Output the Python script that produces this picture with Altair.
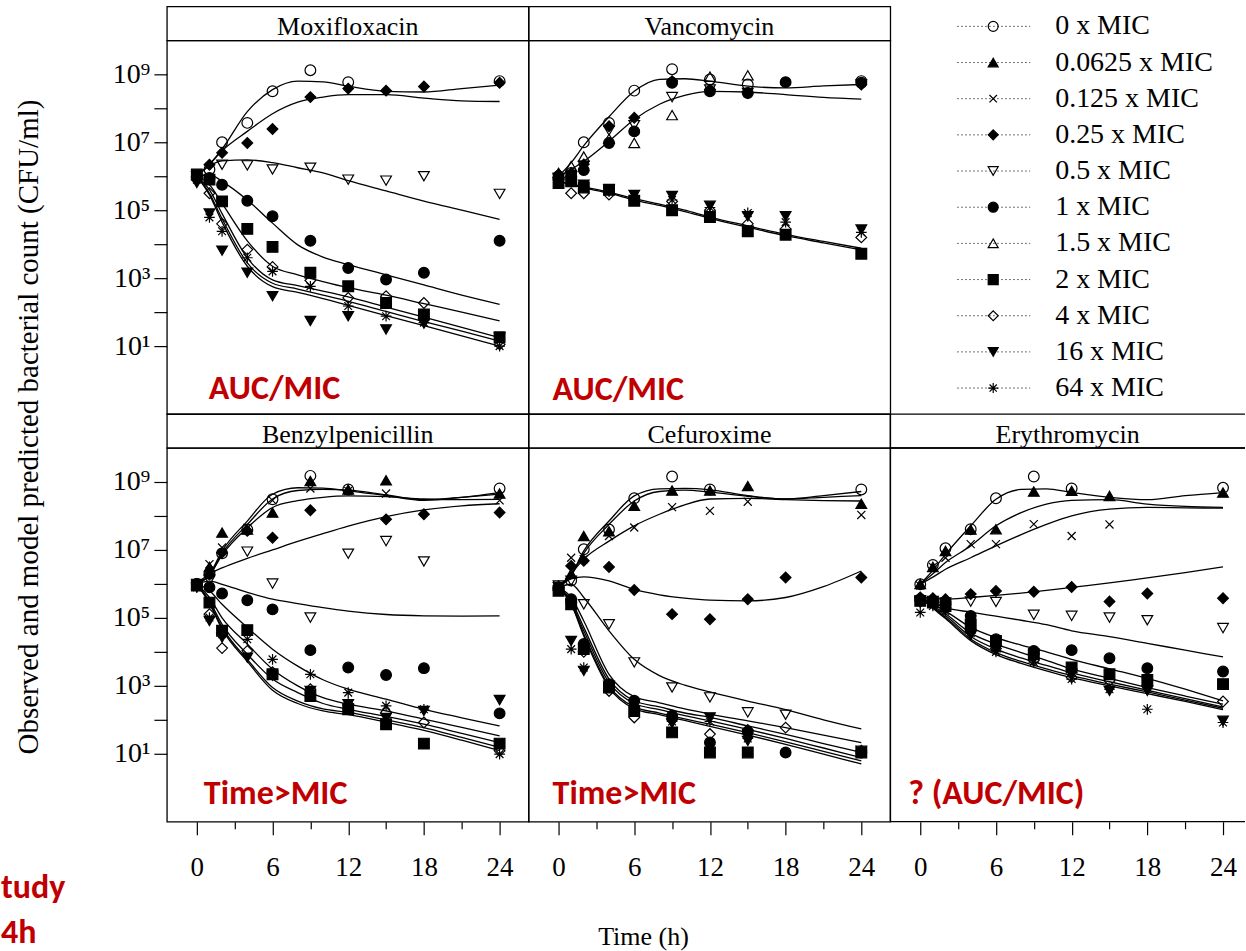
import altair as alt
import pandas as pd

SERIF = "Liberation Serif"
SANS = "Carlito, Lato, sans-serif"
RED = "#C00000"

# ---------------- data (log10 CFU/ml) ----------------
T_OBS = [0, 1, 2, 4, 6, 9, 12, 15, 18, 24]
T_MOD = [0, 1, 2, 4, 6, 8, 10, 12, 15, 18, 21, 24]

CONC = ["0 x MIC", "0.0625 x MIC", "0.125 x MIC", "0.25 x MIC", "0.5 x MIC", "1 x MIC",
        "1.5 x MIC", "2 x MIC", "4 x MIC", "16 x MIC", "64 x MIC"]

moxi_obs = {
    "0 x MIC":    [6.0, 6.2, 7.0, 7.57, 8.5, 9.12, 8.77, None, None, 8.8],
    "0.25 x MIC": [5.9, 6.34, 6.69, 6.98, 7.39, 8.33, 8.58, 8.52, 8.64, 8.75],
    "0.5 x MIC":  [6.0, None, 6.34, 6.32, 6.2, 6.25, 5.9, 5.87, 6.0, 5.48],
    "1 x MIC":    [6.0, 5.95, 5.75, 5.28, 4.82, 4.1, 3.3, 2.96, 3.16, 4.1],
    "2 x MIC":    [6.05, 5.9, 5.26, 4.45, 3.92, 3.16, 2.76, 2.27, 1.93, 1.26],
    "4 x MIC":    [6.0, 5.5, 4.6, 3.84, 3.33, 2.93, 2.42, 2.47, 2.27, 1.05],
    "16 x MIC":   [5.8, 4.9, 3.81, 3.16, 2.47, 1.74, 1.88, 1.49, 1.66, 1.25],
    "64 x MIC":   [5.9, 4.79, 4.38, 3.6, 3.2, 2.76, 2.18, 1.88, 1.69, 1.0],
}
moxi_mod = {
    "0 x MIC":    [6.0, 6.35, 6.8, 7.9, 8.55, 8.8, 8.78, 8.65, 8.5, 8.48, 8.58, 8.68],
    "0.25 x MIC": [6.0, 6.35, 6.75, 7.32, 7.84, 8.18, 8.33, 8.4, 8.4, 8.3, 8.22, 8.2],
    "0.5 x MIC":  [6.0, 6.3, 6.45, 6.48, 6.4, 6.25, 6.1, 5.87, 5.57, 5.27, 5.0, 4.73],
    "1 x MIC":    [6.0, 6.05, 5.85, 5.3, 4.62, 3.98, 3.62, 3.4, 3.1, 2.8, 2.5, 2.23],
    "2 x MIC":    [6.0, 5.75, 5.2, 4.1, 3.35, 3.1, 2.9, 2.72, 2.5, 2.25, 2.0, 1.74],
    "4 x MIC":    [6.0, 5.6, 4.9, 3.6, 2.95, 2.78, 2.62, 2.45, 2.15, 1.85, 1.55, 1.25],
    "16 x MIC":   [6.0, 5.5, 4.75, 3.45, 2.85, 2.68, 2.5, 2.32, 2.02, 1.72, 1.44, 1.15],
    "64 x MIC":   [6.0, 5.45, 4.65, 3.35, 2.75, 2.58, 2.4, 2.2, 1.9, 1.6, 1.3, 1.0],
}

vanco_obs = {
    "0 x MIC":    [6.0, 6.1, 7.0, 7.57, 8.52, 9.15, 8.85, 8.7, None, 8.8],
    "0.25 x MIC": [6.05, 6.1, 6.35, 7.47, 7.72, 8.8, 8.55, 8.45, None, 8.7],
    "0.5 x MIC":  [5.95, 6.0, 6.3, 7.35, 7.5, 8.33, 8.55, 8.45, None, 8.7],
    "1 x MIC":    [5.95, 6.0, 6.18, 6.98, 7.32, 8.75, 8.5, 8.45, 8.77, 8.75],
    "1.5 x MIC":  [6.1, 6.3, 6.58, 7.1, 6.98, 7.8, 8.93, 8.97, None, None],
    "2 x MIC":    [5.8, 5.85, 5.67, 5.6, 5.28, 5.0, 4.8, 4.38, 4.28, 3.72],
    "4 x MIC":    [5.9, 5.5, 5.5, 5.46, 5.3, 5.26, 5.0, 4.6, 4.45, 4.2],
    "16 x MIC":   [5.95, 6.0, 5.75, 5.6, 5.45, 5.42, 5.13, 4.82, 4.82, 4.43],
    "64 x MIC":   [5.9, 5.9, 5.7, 5.55, 5.4, 5.3, 5.08, 4.92, 4.65, 4.35],
}
vanco_mod = {
    "0 x MIC":  [6.0, 6.4, 6.9, 7.75, 8.5, 8.85, 8.87, 8.8, 8.65, 8.6, 8.66, 8.7],
    "1 x MIC":  [6.0, 6.2, 6.44, 7.03, 7.67, 8.12, 8.38, 8.5, 8.48, 8.4, 8.32, 8.27],
    "2 x MIC":  [5.85, 5.75, 5.66, 5.5, 5.3, 5.14, 4.96, 4.76, 4.5, 4.25, 4.04, 3.83],
    "16 x MIC": [5.85, 5.77, 5.69, 5.53, 5.34, 5.18, 5.0, 4.8, 4.54, 4.29, 4.08, 3.88],
}

benzyl_obs = {
    "0 x MIC":      [6.0, 6.3, 6.9, 7.6, 8.49, 9.18, 8.78, None, None, 8.81],
    "0.0625 x MIC": [6.0, 6.5, 7.51, 7.6, 8.1, 9.03, 8.78, 9.05, None, 8.66],
    "0.125 x MIC":  [6.0, 6.58, 7.07, 7.65, 8.46, 8.81, 8.74, 8.66, None, 8.46],
    "0.25 x MIC":   [6.0, 6.28, 6.92, 7.56, 7.36, 8.17, None, 7.9, 8.05, 8.1],
    "0.5 x MIC":    [6.0, 6.1, None, 6.95, 6.01, 5.01, 6.89, 7.26, 6.66, None],
    "1 x MIC":      [6.0, 5.9, 5.72, 5.52, 5.25, 4.05, 3.54, 3.32, 3.52, 2.19],
    "2 x MIC":      [5.95, 5.45, 4.62, 4.64, 3.34, 2.7, 2.31, 1.87, 1.3, 1.3],
    "4 x MIC":      [5.95, 5.11, 4.11, 4.03, 3.4, 2.9, 2.46, 2.22, 1.92, 1.09],
    "16 x MIC":     [5.9, 4.91, 4.42, 3.83, 3.3, 2.85, 2.46, 2.05, 2.26, 2.58],
    "64 x MIC":     [5.9, 5.01, 4.52, 4.37, 3.78, 3.34, 2.8, 2.41, 2.31, 0.99],
}
benzyl_mod = {
    "0 x MIC":      [6.0, 6.28, 6.97, 7.85, 8.64, 8.83, 8.82, 8.74, 8.6, 8.46, 8.55, 8.69],
    "0.0625 x MIC": [6.0, 6.25, 6.9, 7.75, 8.5, 8.75, 8.78, 8.76, 8.62, 8.48, 8.55, 8.64],
    "0.125 x MIC":  [6.0, 6.25, 6.85, 7.65, 8.25, 8.45, 8.55, 8.59, 8.57, 8.5, 8.48, 8.49],
    "0.25 x MIC":   [6.0, 6.3, 6.47, 6.75, 7.0, 7.25, 7.48, 7.7, 7.98, 8.18, 8.3, 8.36],
    "0.5 x MIC":    [6.0, 6.08, 5.99, 5.75, 5.55, 5.42, 5.3, 5.2, 5.1, 5.06, 5.05, 5.06],
    "1 x MIC":      [6.0, 5.8, 5.4, 4.72, 4.08, 3.58, 3.18, 2.9, 2.61, 2.31, 2.06, 1.82],
    "2 x MIC":      [6.0, 5.6, 5.0, 4.23, 3.49, 3.0, 2.65, 2.46, 2.26, 2.02, 1.78, 1.53],
    "4 x MIC":      [6.0, 5.5, 4.81, 3.93, 3.2, 2.8, 2.48, 2.31, 2.1, 1.87, 1.6, 1.33],
    "16 x MIC":     [6.0, 5.45, 4.72, 3.78, 2.95, 2.55, 2.32, 2.22, 2.0, 1.77, 1.48, 1.19],
    "64 x MIC":     [6.0, 5.42, 4.67, 3.72, 2.87, 2.48, 2.26, 2.15, 1.93, 1.69, 1.4, 1.09],
}

cefur_obs = {
    "0 x MIC":      [5.9, 6.1, 7.02, 7.6, 8.52, 9.16, 8.78, None, None, 8.78],
    "0.0625 x MIC": [5.95, 6.3, 7.41, 7.55, 8.3, 8.75, 8.75, 8.88, None, 8.36],
    "0.125 x MIC":  [5.95, 6.77, 6.73, 7.41, 7.66, 8.26, 8.15, 8.42, None, 8.03],
    "0.25 x MIC":   [5.9, 6.53, 6.68, 6.5, 5.82, 5.11, 4.96, 5.55, 6.19, 6.19],
    "0.5 x MIC":    [5.95, 6.09, 5.4, 4.81, 3.69, 2.95, 2.66, 2.22, 2.15, 1.09],
    "1 x MIC":      [5.85, 5.55, 4.23, 3.05, 2.56, 2.12, 1.33, 1.65, 1.04, 1.04],
    "2 x MIC":      [5.8, 5.4, 4.08, 2.95, 2.26, 1.63, 1.04, 1.04, None, 1.04],
    "4 x MIC":      [5.85, 5.45, 4.0, 2.85, 2.07, 2.0, 1.58, 1.7, 1.77, 1.09],
    "16 x MIC":     [5.9, 4.32, 3.44, 3.0, 2.45, 1.9, 2.07, 1.38, None, None],
    "64 x MIC":     [5.9, 4.08, 3.54, 2.95, 2.35, 1.95, 1.95, 1.45, None, None],
}
cefur_mod = {
    "0 x MIC":      [5.9, 6.28, 6.97, 7.85, 8.59, 8.8, 8.81, 8.77, 8.6, 8.5, 8.6, 8.72],
    "0.0625 x MIC": [5.9, 6.25, 6.9, 7.75, 8.44, 8.72, 8.76, 8.7, 8.58, 8.5, 8.55, 8.6],
    "0.125 x MIC":  [5.9, 6.3, 6.73, 7.26, 7.71, 8.05, 8.33, 8.5, 8.52, 8.48, 8.45, 8.44],
    "0.25 x MIC":   [5.9, 6.15, 6.21, 6.09, 5.84, 5.68, 5.58, 5.52, 5.5, 5.6, 5.92, 6.38],
    "0.5 x MIC":    [5.9, 5.99, 5.6, 4.62, 3.78, 3.3, 3.02, 2.82, 2.55, 2.3, 2.0, 1.73],
    "1 x MIC":      [5.9, 5.6, 4.91, 3.34, 2.68, 2.5, 2.32, 2.17, 1.97, 1.77, 1.55, 1.33],
    "2 x MIC":      [5.9, 5.5, 4.72, 3.2, 2.56, 2.38, 2.2, 2.07, 1.82, 1.57, 1.3, 1.04],
    "4 x MIC":      [5.9, 5.45, 4.62, 3.1, 2.48, 2.3, 2.12, 1.97, 1.72, 1.45, 1.17, 0.89],
    "16 x MIC":     [5.9, 5.42, 4.52, 3.0, 2.38, 2.2, 2.03, 1.87, 1.62, 1.35, 1.07, 0.79],
    "64 x MIC":     [5.9, 5.4, 4.47, 2.95, 2.33, 2.15, 1.98, 1.81, 1.55, 1.28, 0.99, 0.7],
}

erythro_obs = {
    "0 x MIC":      [5.99, 6.56, 7.05, 7.61, 8.52, 9.16, 8.81, None, None, 8.83],
    "0.0625 x MIC": [6.0, 6.5, 6.97, 7.6, 7.61, 8.72, 8.74, 8.59, None, 8.69],
    "0.125 x MIC":  [5.95, 6.5, 6.77, 7.17, 7.17, 7.76, 7.41, 7.75, None, None],
    "0.25 x MIC":   [5.6, 5.58, 5.55, 5.7, 5.79, 5.77, 5.91, 5.48, 5.72, 5.58],
    "0.5 x MIC":    [5.5, 5.5, 5.45, 5.48, 5.47, 5.09, 5.06, 5.01, 4.93, 4.7],
    "1 x MIC":      [5.55, 5.5, 5.45, 5.06, 4.37, 4.03, 4.05, 3.81, 3.52, 3.42],
    "2 x MIC":      [5.5, 5.45, 5.35, 4.81, 4.32, 3.93, 3.54, 3.34, 3.17, 3.05],
    "4 x MIC":      [5.5, 5.45, 5.3, 4.6, 4.1, 3.75, 3.25, 3.15, 3.0, 2.54],
    "16 x MIC":     [5.45, 5.4, 5.25, 4.5, 4.05, 3.8, 3.35, 2.85, 2.85, 1.97],
    "64 x MIC":     [5.16, 5.35, 5.2, 4.55, 4.0, 3.7, 3.2, 2.9, 2.31, 1.92],
}
erythro_mod = {
    "0 x MIC":      [6.0, 6.4, 6.87, 7.71, 8.49, 8.78, 8.8, 8.69, 8.55, 8.48, 8.6, 8.69],
    "0.0625 x MIC": [6.0, 6.3, 6.63, 7.12, 7.71, 8.1, 8.35, 8.46, 8.48, 8.35, 8.28, 8.25],
    "0.125 x MIC":  [6.0, 6.2, 6.43, 6.77, 7.12, 7.45, 7.75, 8.0, 8.2, 8.25, 8.24, 8.23],
    "0.25 x MIC":   [5.6, 5.57, 5.55, 5.6, 5.66, 5.73, 5.81, 5.9, 6.03, 6.18, 6.33, 6.5],
    "0.5 x MIC":    [5.6, 5.45, 5.3, 5.17, 5.05, 4.93, 4.8, 4.62, 4.45, 4.25, 4.05, 3.85],
    "1 x MIC":      [5.6, 5.4, 5.2, 4.72, 4.42, 4.2, 4.0, 3.78, 3.5, 3.22, 2.9, 2.56],
    "2 x MIC":      [5.6, 5.35, 5.12, 4.55, 4.23, 3.98, 3.75, 3.5, 3.22, 2.95, 2.7, 2.46],
    "4 x MIC":      [5.6, 5.32, 5.07, 4.45, 4.08, 3.82, 3.6, 3.38, 3.12, 2.87, 2.62, 2.38],
    "16 x MIC":     [5.6, 5.3, 5.02, 4.38, 3.98, 3.72, 3.5, 3.3, 3.05, 2.82, 2.58, 2.34],
    "64 x MIC":     [5.6, 5.28, 4.98, 4.33, 3.92, 3.66, 3.44, 3.24, 3.0, 2.77, 2.54, 2.3],
}

# ---------------- styling ----------------
X_PATH = "M-0.75,-0.75L0.75,0.75M-0.75,0.75L0.75,-0.75"
AST_PATH = "M-1,0L1,0M0,-1L0,1M-0.72,-0.72L0.72,0.72M-0.72,0.72L0.72,-0.72"
SHAPES = ["circle", "triangle-up", X_PATH, "diamond", "triangle-down", "circle",
          "triangle-up", "square", "diamond", "triangle-down", AST_PATH]
FILLS = ["transparent", "black", "transparent", "black", "transparent", "black",
         "transparent", "black", "transparent", "black", "transparent"]
SHAPE_SCALE = alt.Scale(domain=CONC, range=SHAPES)
FILL_SCALE = alt.Scale(domain=CONC, range=FILLS)

PX_H = 12.625      # pixels per hour
W = 362
W_LAST = 355
H = 374
HS = 34
YS = alt.Scale(domain=[-1, 10], nice=False, zero=False)


def xscale(width):
    return alt.Scale(domain=[-30 / PX_H, (width - 30) / PX_H], nice=False, zero=False)


def long(d, times):
    rows = []
    for conc, vals in d.items():
        for t, v in zip(times, vals):
            if v is not None:
                rows.append({"conc": conc, "t": t, "v": v})
    return pd.DataFrame(rows)


Y_AXIS = alt.Axis(values=list(range(1, 10)), tickSize=13, tickColor="black", tickWidth=1.2,
                  labelPadding=4, labelFont=SERIF, labelFontSize=28, labelColor="black",
                  labelExpr="datum.value % 2 == 1 ? '10' + ['⁰','¹','²','³','⁴','⁵','⁶','⁷','⁸','⁹'][datum.value] : ''",
                  labelOverlap=False, domain=False, grid=False, title=None)
X_AXIS = alt.Axis(values=list(range(0, 25, 3)),
                  tickSize={"condition": {"test": "datum.value % 6 == 0", "value": 13}, "value": 7},
                  tickColor="black", tickWidth=1.2, labelPadding=20, labelFont=SERIF,
                  labelFontSize=27, labelColor="black",
                  labelExpr="datum.value % 6 == 0 ? datum.label : ''",
                  labelOverlap=False, labelFlush=False, domain=False, grid=False, title=None)

ONE = pd.DataFrame({"k": [0]})
NOSTROKE = alt.ViewBackground(stroke=None)


def txt(s, x, y, **kw):
    return alt.Chart(pd.DataFrame({"s": [s]})).mark_text(**kw).encode(
        x=alt.value(x), y=alt.value(y), text="s:N")


def frame_rules(width, height):
    base = alt.Chart(ONE).mark_rule(color="black", strokeWidth=1.3)
    return [
        base.encode(x=alt.value(0), y=alt.value(0), y2=alt.value(height)),
        base.encode(x=alt.value(0), x2=alt.value(width), y=alt.value(0)),
        base.encode(x=alt.value(0), x2=alt.value(width), y=alt.value(height)),
    ]


def note(s, x, y):
    return txt(s, x, y, align="left", baseline="alphabetic", font=SANS, fontWeight="bold",
               fontSize=34, color=RED)


def plot(obs, mod, width, yaxis, xaxis, ann, ann_x, ann_y, extra=(), frame=True):
    X = alt.X("t:Q", scale=xscale(width), axis=xaxis)
    Y = alt.Y("v:Q", scale=YS, axis=yaxis)
    lines = alt.Chart(long(mod, T_MOD)).mark_line(
        color="black", strokeWidth=1.3, interpolate="monotone"
    ).encode(x=X, y=Y, detail="conc:N")
    pts = alt.Chart(long(obs, T_OBS)).mark_point(
        stroke="black", strokeWidth=1.2, opacity=1, size=115
    ).encode(x=X, y=Y,
             shape=alt.Shape("conc:N", scale=SHAPE_SCALE, legend=None),
             fill=alt.Fill("conc:N", scale=FILL_SCALE, legend=None))
    layers = [lines, pts, note(ann, ann_x, ann_y)] + list(extra)
    if not frame:
        layers += frame_rules(width, H)
    ch = alt.layer(*layers).properties(width=width, height=H)
    if not frame:
        ch = ch.properties(view=NOSTROKE)
    return ch


def strip(name, width, frame=True):
    layers = [txt(name, width / 2, 29, align="center", baseline="alphabetic",
                  font=SERIF, fontSize=26, color="black")]
    if not frame:
        layers += frame_rules(width, HS)
    ch = alt.layer(*layers).properties(width=width, height=HS)
    if not frame:
        ch = ch.properties(view=NOSTROKE)
    return ch


# ---------------- panels ----------------
moxi = plot(moxi_obs, moxi_mod, W, Y_AXIS, None, "AUC/MIC", 42, 359)
vanco = plot(vanco_obs, vanco_mod, W, None, None, "AUC/MIC", 24, 360)

left_extra = [
    txt("Observed and model predicted bacterial count  (CFU/ml)", -129, -21, angle=270,
        align="center", baseline="alphabetic", font=SERIF, fontSize=29, color="black"),
    txt("tudy", -166, 450, align="left", baseline="alphabetic", font=SANS,
        fontWeight="bold", fontSize=34, color=RED),
    txt("4h", -166, 502, align="left", baseline="bottom", font=SANS,
        fontWeight="bold", fontSize=34, color=RED),
]
benzyl = plot(benzyl_obs, benzyl_mod, W, Y_AXIS, X_AXIS, "Time>MIC", 37, 356, extra=left_extra)
cefur = plot(cefur_obs, cefur_mod, W, None, X_AXIS, "Time>MIC", 24, 356,
             extra=[txt("Time (h)", 115, 489, align="center", baseline="middle",
                        font=SERIF, fontSize=26, color="black")])
erythro = plot(erythro_obs, erythro_mod, W_LAST, None, X_AXIS, "? (AUC/MIC)", 18, 356, frame=False)

# ---------------- legend cell (drawn from the top strip cell, overflowing downwards) ----------------
leg_df = pd.DataFrame({"conc": CONC, "i": list(range(len(CONC)))})
LY = alt.Y("i:Q", scale=alt.Scale(domain=[0, 10], range=[20, 382]), axis=None)
leg_line = alt.Chart(leg_df).mark_rule(color="#444", strokeWidth=1, strokeDash=[1.5, 2.5]).encode(
    x=alt.value(67), x2=alt.value(140), y=LY)
leg_pts = alt.Chart(leg_df).mark_point(stroke="black", strokeWidth=1.2, opacity=1, size=100).encode(
    x=alt.value(103), y=LY,
    shape=alt.Shape("conc:N", scale=SHAPE_SCALE, legend=None),
    fill=alt.Fill("conc:N", scale=FILL_SCALE, legend=None))
leg_txt = alt.Chart(leg_df).mark_text(align="left", baseline="middle", font=SERIF, fontSize=28,
                                      color="black").encode(x=alt.value(165), y=LY, text="conc:N")
legend = alt.layer(leg_line, leg_pts, leg_txt).properties(width=W_LAST, height=HS, view=NOSTROKE)

empty = alt.Chart(ONE).mark_text(text="").encode(x=alt.value(0), y=alt.value(0)).properties(
    width=W_LAST, height=H, view=NOSTROKE)

cells = [
    strip("Moxifloxacin", W), strip("Vancomycin", W), legend,
    moxi, vanco, empty,
    strip("Benzylpenicillin", W), strip("Cefuroxime", W), strip("Erythromycin", W_LAST, frame=False),
    benzyl, cefur, erythro,
]

chart = alt.concat(*cells, columns=3, spacing=0, bounds="flush", align="each").resolve_scale(
    x="independent", y="independent", shape="shared", fill="shared"
).properties(
    padding={"left": 0, "top": 5, "right": 0, "bottom": 0},
    background="white",
).configure_view(stroke="black", strokeWidth=1.3)

chart.save("out.html", embed_options={"renderer": "svg", "actions": False})
